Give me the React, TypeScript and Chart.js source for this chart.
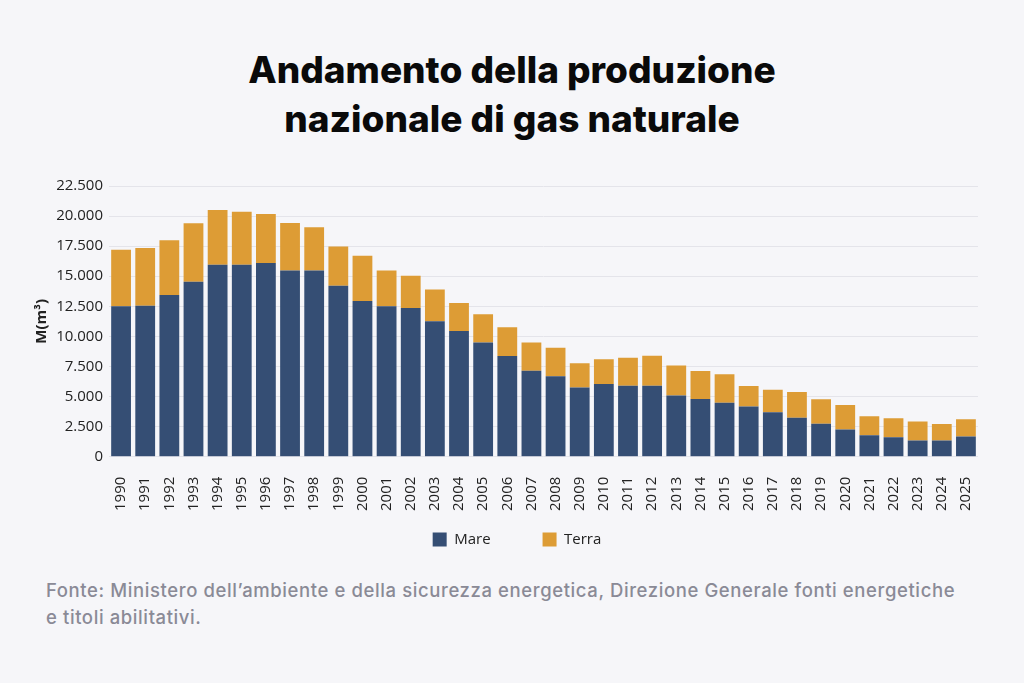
import React, { useEffect, useRef } from "react";
import { Chart, registerables } from "chart.js";

Chart.register(...registerables);

const years = [
  "1990","1991","1992","1993","1994","1995","1996","1997","1998","1999",
  "2000","2001","2002","2003","2004","2005","2006","2007","2008","2009",
  "2010","2011","2012","2013","2014","2015","2016","2017","2018","2019",
  "2020","2021","2022","2023","2024","2025",
];

const mare = [
  12500, 12550, 13450, 14550, 15950, 15950, 16100, 15480, 15480, 14200,
  12950, 12500, 12350, 11250, 10450, 9500, 8380, 7150, 6680, 5750,
  6050, 5900, 5900, 5080, 4800, 4480, 4170, 3700, 3230, 2730,
  2250, 1780, 1620, 1350, 1350, 1680,
];

const terra = [
  4700, 4800, 4550, 4850, 4550, 4400, 4080, 3950, 3600, 3280,
  3750, 2980, 2680, 2640, 2330, 2350, 2370, 2340, 2370, 2020,
  2050, 2330, 2500, 2510, 2320, 2370, 1700, 1860, 2150, 2040,
  2050, 1580, 1570, 1570, 1370, 1430,
];

const seriesNames = ["Mare", "Terra"];
const seriesColors = ["#354e74", "#dd9c35"];
const titleLines = ["Andamento della produzione", "nazionale di gas naturale"];
const yAxisTitle = "M(m³)";
const footerLines = [
  "Fonte: Ministero dell’ambiente e della sicurezza energetica, Direzione Generale fonti energetiche",
  "e titoli abilitativi.",
];

const formatIt = (v: number) =>
  String(Math.round(v)).replace(/\B(?=(\d{3})+(?!\d))/g, ".");

// Pull the legend closer to the axis labels while keeping wide horizontal spacing.
const LEGEND_SHIFT = 51;
const LEGEND_OFFSET_X = 13;
const legendShift = {
  id: "legendShift",
  afterInit(chart: any) {
    const lg = chart.legend;
    if (!lg) return;
    const fit = lg.fit.bind(lg);
    lg.fit = function () {
      fit();
      this.height -= LEGEND_SHIFT;
    };
    const draw = lg.draw.bind(lg);
    lg.draw = function () {
      const t = this.top;
      const l = this.left;
      const r = this.right;
      this.top = t - LEGEND_SHIFT;
      this.left = l + LEGEND_OFFSET_X;
      this.right = r + LEGEND_OFFSET_X;
      draw();
      this.top = t;
      this.left = l;
      this.right = r;
    };
  },
};

export default function App() {
  const canvasRef = useRef<HTMLCanvasElement | null>(null);

  useEffect(() => {
    document.body.style.margin = "0";
    const ctx = canvasRef.current;
    if (!ctx) return;
    const chart = new Chart(ctx, {
      type: "bar",
      data: {
        labels: years,
        datasets: [
          {
            label: seriesNames[0],
            data: mare,
            backgroundColor: seriesColors[0],
            barPercentage: 1,
            categoryPercentage: 0.82,
          },
          {
            label: seriesNames[1],
            data: terra,
            backgroundColor: seriesColors[1],
            barPercentage: 1,
            categoryPercentage: 0.82,
          },
        ],
      },
      plugins: [legendShift],
      options: {
        animation: false,
        responsive: false,
        maintainAspectRatio: false,
        layout: { padding: { left: 30, right: 46, top: 16, bottom: 13 } },
        plugins: {
          title: { display: false },
          tooltip: { enabled: false },
          legend: {
            position: "bottom",
            labels: {
              boxWidth: 14,
              boxHeight: 14,
              padding: 52,
              color: "#222",
              font: { family: "'Open Sans', sans-serif", size: 15 },
            },
          },
        },
        scales: {
          x: {
            stacked: true,
            grid: { display: false, drawTicks: false },
            border: { display: false },
            ticks: {
              color: "#222",
              maxRotation: 90,
              minRotation: 90,
              autoSkip: false,
              padding: 20,
              font: { family: "'Open Sans', sans-serif", size: 15 },
            },
          },
          y: {
            stacked: true,
            min: 0,
            max: 22500,
            afterFit: (scale: any) => {
              scale.width = 79;
            },
            grid: { color: "#e4e4ea", drawTicks: false, lineWidth: 1 },
            border: { display: false },
            ticks: {
              stepSize: 2500,
              padding: 6,
              color: "#222",
              font: { family: "'Open Sans', sans-serif", size: 15 },
              callback: (v: any) => formatIt(Number(v)),
            },
            title: {
              display: true,
              text: yAxisTitle,
              color: "#222",
              padding: 3,
              font: { family: "'Open Sans', sans-serif", size: 15, weight: "bold" },
            },
          },
        },
      },
    });
    return () => chart.destroy();
  }, []);

  return (
    <div
      style={{
        position: "fixed",
        left: 0,
        top: 0,
        width: 1024,
        height: 683,
        background: "#f6f6f9",
        overflow: "hidden",
      }}
    >
      <div
        style={{
          position: "absolute",
          left: 0,
          top: 45,
          width: 1024,
          textAlign: "center",
          fontFamily: "Inter, sans-serif",
          fontWeight: 800,
          fontSize: 37,
          lineHeight: "49px",
          color: "#0a0a0a",
        }}
      >
        {titleLines.map((l, i) => (
          <div key={i}>{l}</div>
        ))}
      </div>
      <canvas
        ref={canvasRef}
        width={1024}
        height={400}
        style={{ position: "absolute", left: 0, top: 170, width: 1024, height: 400 }}
      />
      <div
        style={{
          position: "absolute",
          left: 46,
          top: 577,
          fontFamily: "Inter, sans-serif",
          fontWeight: 500,
          fontSize: 18.5,
          letterSpacing: 0.6,
          lineHeight: "27px",
          color: "#8a8a96",
          whiteSpace: "nowrap",
        }}
      >
        {footerLines.map((l, i) => (
          <div key={i}>{l}</div>
        ))}
      </div>
    </div>
  );
}
